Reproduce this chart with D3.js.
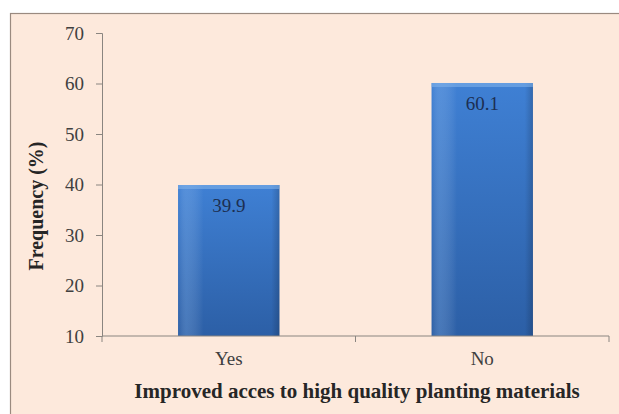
<!DOCTYPE html>
<html>
<head>
<meta charset="utf-8">
<script src="https://cdn.jsdelivr.net/npm/d3@7"></script>
<style>
  html, body { margin: 0; padding: 0; background: #ffffff; }
  svg text { font-family: "Liberation Serif", "Times New Roman", serif; }
</style>
</head>
<body>
<div id="chart"></div>
<script>
// Frequency of improved access to high quality planting materials
const categories = ['Yes', 'No'];
const values = [39.9, 60.1];
const yTicks = [10, 20, 30, 40, 50, 60, 70];
const xTitle = 'Improved acces to high quality planting materials';
const yTitle = 'Frequency (%)';

const W = 619, H = 414;
const SERIF = '"Liberation Serif", "Times New Roman", serif';
const svg = d3.select('#chart').append('svg').attr('width', W).attr('height', H);

// Peach chart area with thin border (only top/left visible in the crop)
svg.append('rect')
  .attr('x', 10.5).attr('y', 13.5)
  .attr('width', W + 10).attr('height', H + 10)
  .attr('fill', '#fde9dc')
  .attr('stroke', '#9a8a80').attr('stroke-width', 1.2);

const m = { left: 102, right: 10, top: 33, bottom: 78 };
const x = d3.scaleBand().domain(categories).range([m.left, 609]).paddingInner(0.6).paddingOuter(0.3);
const y = d3.scaleLinear().domain([10, 70]).range([336, 33]);

// Blue bar gradient: lighter at top, and a highlight strip on the left
const defs = svg.append('defs');
const gv = defs.append('linearGradient').attr('id', 'barV').attr('x1', 0).attr('y1', 0).attr('x2', 0).attr('y2', 1);
gv.append('stop').attr('offset', '0%').attr('stop-color', '#3f80d4');
gv.append('stop').attr('offset', '100%').attr('stop-color', '#2c5fa6');
const gh = defs.append('linearGradient').attr('id', 'barH').attr('x1', 0).attr('y1', 0).attr('x2', 1).attr('y2', 0);
gh.append('stop').attr('offset', '0%').attr('stop-color', '#ffffff').attr('stop-opacity', 0.0);
gh.append('stop').attr('offset', '8%').attr('stop-color', '#9cc3f0').attr('stop-opacity', 0.25);
gh.append('stop').attr('offset', '25%').attr('stop-color', '#ffffff').attr('stop-opacity', 0.0);
gh.append('stop').attr('offset', '92%').attr('stop-color', '#000000').attr('stop-opacity', 0.0);
gh.append('stop').attr('offset', '100%').attr('stop-color', '#000000').attr('stop-opacity', 0.18);

const bars = svg.append('g');
bars.selectAll('rect.bar')
  .data(values)
  .enter().append('rect')
  .attr('class', 'bar')
  .attr('x', (d, i) => x(categories[i]))
  .attr('y', d => y(d))
  .attr('width', x.bandwidth())
  .attr('height', d => y(10) - y(d))
  .attr('fill', 'url(#barV)');
bars.selectAll('rect.shine')
  .data(values)
  .enter().append('rect')
  .attr('class', 'shine')
  .attr('x', (d, i) => x(categories[i]))
  .attr('y', d => y(d))
  .attr('width', x.bandwidth())
  .attr('height', d => y(10) - y(d))
  .attr('fill', 'url(#barH)');
// light top edge
bars.selectAll('rect.cap')
  .data(values)
  .enter().append('rect')
  .attr('class', 'cap')
  .attr('x', (d, i) => x(categories[i]))
  .attr('y', d => y(d))
  .attr('width', x.bandwidth())
  .attr('height', 4)
  .attr('fill', '#7fb0ea').attr('opacity', 0.6);

// Value labels inside the bars near the top
bars.selectAll('text.val')
  .data(values)
  .enter().append('text')
  .attr('class', 'val')
  .attr('x', (d, i) => x(categories[i]) + x.bandwidth() / 2)
  .attr('y', d => y(d) + 27)
  .attr('text-anchor', 'middle')
  .attr('font-family', SERIF)
  .attr('font-size', 19)
  .attr('fill', '#1c2f52')
  .text(d => d.toFixed(1));

// Y axis
const yAxis = svg.append('g')
  .attr('transform', `translate(${m.left},0)`)
  .call(d3.axisLeft(y).tickValues(yTicks).tickSize(6).tickPadding(12));
yAxis.attr('font-family', SERIF);
yAxis.select('.domain').attr('stroke', '#8a8580');
yAxis.selectAll('.tick line').attr('stroke', '#8a8580');
yAxis.selectAll('.tick text')
  .attr('font-size', 19).attr('fill', '#404040');

// X axis with ticks between categories
const xAxisG = svg.append('g').attr('transform', `translate(0,${y(10)})`);
xAxisG.append('line')
  .attr('x1', m.left).attr('x2', 609)
  .attr('stroke', '#8a8580');
xAxisG.selectAll('line.sep')
  .data([categories[0]].concat(categories))
  .enter().append('line')
  .attr('class', 'sep')
  .attr('x1', (d, i) => i === 0 ? m.left : x(d) + x.bandwidth() / 2 + x.step() / 2)
  .attr('x2', (d, i) => i === 0 ? m.left : x(d) + x.bandwidth() / 2 + x.step() / 2)
  .attr('y1', 0).attr('y2', 6)
  .attr('stroke', '#8a8580');
xAxisG.selectAll('text.cat')
  .data(categories)
  .enter().append('text')
  .attr('class', 'cat')
  .attr('x', d => x(d) + x.bandwidth() / 2)
  .attr('y', 29)
  .attr('text-anchor', 'middle')
  .attr('font-family', SERIF)
  .attr('font-size', 19)
  .attr('fill', '#404040')
  .text(d => d);

// Axis titles
svg.append('text')
  .attr('x', 357).attr('y', 398)
  .attr('text-anchor', 'middle')
  .attr('font-family', SERIF)
  .attr('font-size', 21).attr('font-weight', 'bold')
  .attr('fill', '#262626')
  .text(xTitle);

svg.append('text')
  .attr('transform', 'translate(43,206) rotate(-90)')
  .attr('text-anchor', 'middle')
  .attr('font-family', SERIF)
  .attr('font-size', 20).attr('font-weight', 'bold')
  .attr('fill', '#262626')
  .text(yTitle);
</script>
</body>
</html>
